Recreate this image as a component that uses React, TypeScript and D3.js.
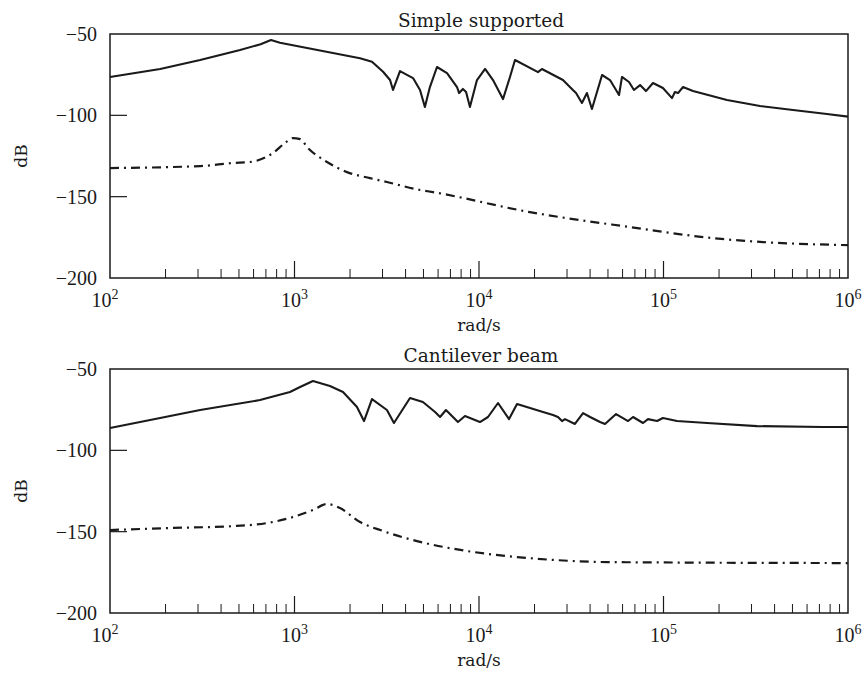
import React from "react";
import * as d3 from "d3";

// ---- Data ----
const xTickExponents = [2, 3, 4, 5, 6];
const yTickValues = [-50, -100, -150, -200];

// Simple supported – solid curve
const ssSolidFreq = [100, 187, 308, 507, 655, 746, 834, 2265, 2630, 3020, 3295, 3420, 3730, 4390, 4790, 5090, 5420, 5920, 6710, 7600, 7800, 8180, 8510, 8930, 9750, 10790, 11910, 13490, 14720, 15670, 20890, 21930, 28510, 32280, 33570, 36140, 38460, 40930, 46450, 51290, 57410, 59570, 65010, 69180, 74640, 80350, 87700, 99300, 111200, 115300, 119900, 127600, 144500, 220800, 333400, 503500, 769100, 1000000];
const ssSolidDb = [-76.4, -71.5, -66.0, -59.8, -56.3, -53.7, -55.4, -64.9, -67.0, -73.2, -78.3, -84.4, -72.8, -77.1, -84.4, -94.9, -82.6, -70.3, -74.0, -82.6, -86.3, -83.8, -85.7, -94.9, -78.3, -71.5, -78.3, -90.0, -76.4, -66.0, -73.4, -71.5, -78.3, -84.4, -86.3, -92.4, -86.3, -96.1, -75.2, -78.3, -87.5, -76.4, -79.5, -84.4, -81.4, -85.1, -80.1, -83.2, -89.4, -85.7, -86.3, -82.6, -85.1, -90.6, -94.3, -96.7, -99.2, -100.8];

// Simple supported – dash-dot curve
const ssDashFreq = [100, 308, 464, 574, 764, 889, 982, 1072, 1183, 1500, 1926, 2566, 3170, 4790, 5630, 18880, 65800, 185400, 346000, 1000000];
const ssDashDb = [-132.4, -131.2, -129.3, -128.7, -123.2, -117.0, -114.0, -114.6, -120.1, -128.7, -134.9, -138.6, -141.0, -145.9, -147.2, -159.5, -168.7, -175.5, -177.9, -179.8];

// Cantilever beam – solid curve
const cbSolidFreq = [100, 187, 308, 650, 945, 1072, 1259, 1556, 1832, 2181, 2381, 2630, 3170, 3460, 4227, 4966, 5780, 6150, 6620, 7690, 8395, 10120, 11190, 12680, 14550, 16070, 22230, 25180, 26790, 28180, 29240, 33110, 36640, 40000, 45290, 48190, 55330, 64270, 68390, 77450, 82410, 92260, 99300, 118300, 172200, 321400, 731000, 1000000];
const cbSolidDb = [-86.3, -80.1, -75.2, -69.1, -64.1, -61.1, -57.4, -60.5, -64.1, -73.4, -82.0, -68.5, -75.2, -83.2, -67.8, -70.3, -76.4, -79.5, -75.2, -82.6, -78.9, -82.6, -79.5, -70.9, -80.8, -71.5, -76.4, -78.3, -79.5, -82.0, -80.8, -83.8, -77.1, -79.5, -82.6, -83.8, -77.7, -82.0, -79.5, -83.2, -80.8, -82.0, -80.1, -82.0, -83.2, -85.1, -85.7, -85.7];

// Cantilever beam – dash-dot curve
const cbDashFreq = [100, 204, 464, 710, 982, 1259, 1500, 1765, 2265, 3020, 4613, 8610, 16070, 26480, 50000, 1000000];
const cbDashDb = [-149.0, -147.8, -146.6, -144.7, -141.0, -136.7, -133.0, -135.5, -144.1, -149.6, -155.8, -161.9, -165.6, -167.5, -168.7, -169.3];

const titles = ["Simple supported", "Cantilever beam"];

// ---- Layout ----
const W = 862;
const H = 677;
const left = 110;
const right = 848;
const panels = [
  { top: 34, bottom: 278, title: titles[0], solidF: ssSolidFreq, solidD: ssSolidDb, dashF: ssDashFreq, dashD: ssDashDb },
  { top: 369, bottom: 613, title: titles[1], solidF: cbSolidFreq, solidD: cbSolidDb, dashF: cbDashFreq, dashD: cbDashDb },
];

const ink = "#1a1a1a";
const numFont = "'Liberation Serif', 'Times New Roman', serif";
const textFont = "'DejaVu Serif', serif";

function Panel({ p }: { p: (typeof panels)[number] }) {
  const x = d3.scaleLog().domain([1e2, 1e6]).range([left, right]);
  const y = d3.scaleLinear().domain([-200, -50]).range([p.bottom, p.top]);
  const line = d3
    .line<[number, number]>()
    .x((d) => x(d[0]))
    .y((d) => y(d[1]));
  const smooth = d3
    .line<[number, number]>()
    .x((d) => x(d[0]))
    .y((d) => y(d[1]))
    .curve(d3.curveMonotoneX);
  const solid = line(p.solidF.map((f, i) => [f, p.solidD[i]] as [number, number])) || "";
  const dash = smooth(p.dashF.map((f, i) => [f, p.dashD[i]] as [number, number])) || "";

  const minor: number[] = [];
  for (let e = 2; e < 6; e++) {
    for (let m = 2; m <= 9; m++) minor.push(m * Math.pow(10, e));
  }
  const major = [1e3, 1e4, 1e5];

  const midY = (p.top + p.bottom) / 2;

  return (
    <g>
      {/* title */}
      <text x={(left + right) / 2 + 2} y={p.top - 7} textAnchor="middle" fontFamily={textFont} fontSize={18.5} fill={ink}>
        {p.title}
      </text>
      {/* curves */}
      <path d={solid} fill="none" stroke={ink} strokeWidth={2.1} strokeLinejoin="round" />
      <path d={dash} fill="none" stroke={ink} strokeWidth={2.2} strokeDasharray="9,5,2,5" />
      {/* frame */}
      <rect x={left} y={p.top} width={right - left} height={p.bottom - p.top} fill="none" stroke={ink} strokeWidth={1.5} />
      {/* y ticks */}
      {yTickValues.map((v) => (
        <g key={v}>
          {v !== -50 && v !== -200 && (
            <line x1={left} x2={left + 17} y1={y(v)} y2={y(v)} stroke={ink} strokeWidth={1.2} />
          )}
          <text x={97} y={y(v)} dy="0.35em" textAnchor="end" fontFamily={numFont} fontSize={20} fill={ink}>
            {"\u2212" + Math.abs(v)}
          </text>
        </g>
      ))}
      {/* x ticks */}
      {minor.map((v) => (
        <line key={"m" + v} x1={x(v)} x2={x(v)} y1={p.bottom} y2={p.bottom - 9} stroke={ink} strokeWidth={1} />
      ))}
      {major.map((v) => (
        <line key={"M" + v} x1={x(v)} x2={x(v)} y1={p.bottom} y2={p.bottom - 17} stroke={ink} strokeWidth={1.2} />
      ))}
      {xTickExponents.map((e) => (
        <text key={e} x={x(Math.pow(10, e)) + (e === 2 ? -5 : 0)} y={p.bottom + 29} textAnchor="middle" fontFamily={numFont} fontSize={20} fill={ink}>
          10
          <tspan fontSize={14} dy={-8}>
            {e}
          </tspan>
        </text>
      ))}
      {/* axis labels */}
      <text x={(left + right) / 2} y={p.bottom + 53} textAnchor="middle" fontFamily={textFont} fontSize={17} fill={ink}>
        rad/s
      </text>
      <text transform={`translate(27,${midY}) rotate(-90)`} textAnchor="middle" fontFamily={textFont} fontSize={17} fill={ink}>
        dB
      </text>
    </g>
  );
}

export default function App() {
  return (
    <svg width={W} height={H} style={{ position: "absolute", left: 0, top: 0, background: "#fff" }}>
      <rect x={0} y={0} width={W} height={H} fill="#fff" />
      {panels.map((p, i) => (
        <Panel key={i} p={p} />
      ))}
    </svg>
  );
}
